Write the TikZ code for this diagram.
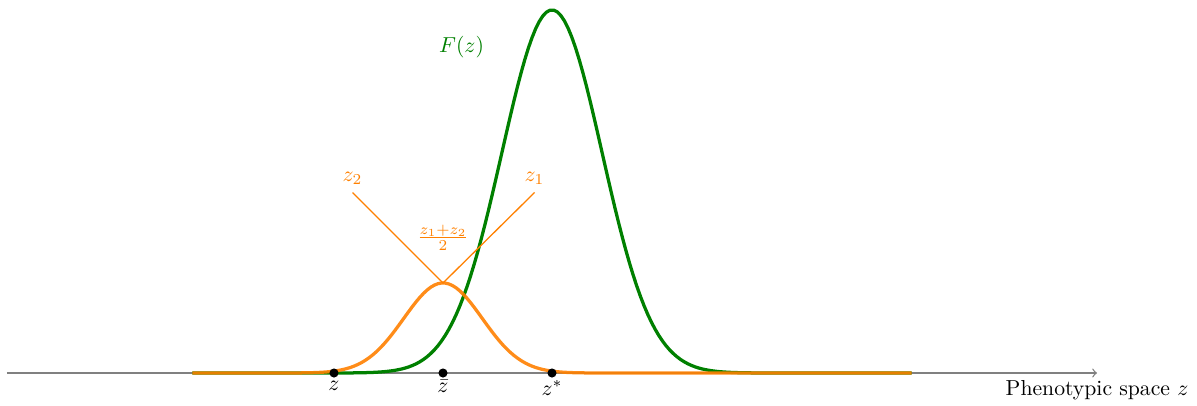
\documentclass[tikz,border=0pt]{standalone}
\usepackage{amsmath, amssymb}
\usepackage{tikz}
\definecolor{fitGreen}{RGB}{0, 128, 0}
\definecolor{popOrange}{RGB}{255, 128, 0}

\begin{document}
\begin{tikzpicture}[x=1.766cm,y=1.766cm]
        \useasboundingbox (-4.064,-0.294) rectangle (6.917,3.422);
        \draw[->,gray,semithick] (-4,0) -- (6,0) coordinate (axend);
        \node[below] (axlabel) at (axend) {Phenotypic space $z$};
        % fitness landscape F(z)
        \draw[fitGreen, line width=1.5pt, domain=-2.3:4.3, samples=200]
          plot (\x, {3.33*exp(-(\x-1)*(\x-1)/(2*0.46*0.46))});
        \node[fitGreen] (Flabel) at (0.17,2.99) {$F(z)$};
        % population distribution
        \draw[popOrange, opacity=0.9, line width=1.5pt, domain=-2.3:4.3, samples=200]
          plot (\x, {0.826*exp(-\x*\x/(2*0.36*0.36))});
        % parents and offspring
        \coordinate (mid) at (0,0.826);
        \coordinate (ztwo) at (-0.83,1.656);
        \coordinate (zone) at (0.84,1.656);
        \draw[popOrange, semithick] (ztwo) -- (mid) -- (zone);
        \node[popOrange, above] (ztwolabel) at (ztwo) {$z_2$};
        \node[popOrange, above] (zonelabel) at (zone) {$z_1$};
        \node[popOrange] (midlabel) at (0,1.24) {$\frac{z_1+z_2}{2}$};
        % points on the axis
        \fill (-1,0) circle (2.1pt) node[below] (zlabel) {$z$};
        \fill (0,0) circle (2.1pt) node[below] (zbarlabel) {$\bar{z}$};
        \fill (1,0) circle (2.1pt) node[below] (zstarlabel) {$z^*$};
      \end{tikzpicture}
\end{document}
